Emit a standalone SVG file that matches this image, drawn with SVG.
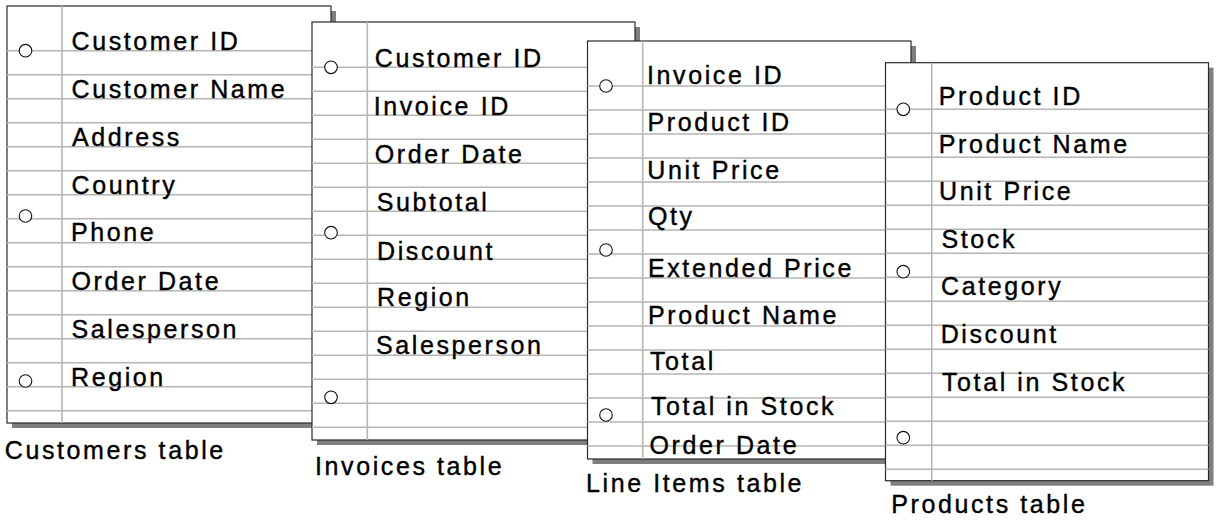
<svg xmlns="http://www.w3.org/2000/svg" width="1220" height="527" viewBox="0 0 1220 527">
<style>
  .shadow { fill: #7f7f7f; }
  .paper { fill: #ffffff; stroke: #2a2a2a; stroke-width: 1.2; }
  .rule { fill: none; stroke: #b5b5b5; stroke-width: 1.6; }
  .hole { fill: #ffffff; stroke: #111111; stroke-width: 1.1; }
  text { font-family: "Liberation Sans", Arial, Helvetica, sans-serif; font-size: 25px; letter-spacing: 2.6px; fill: #000000; stroke: #000000; stroke-width: 0.4px; }
</style>
<rect width="1220" height="527" fill="#ffffff"/>

<g id="customers-table">
  <g transform="translate(7,6)">
    <rect class="shadow" x="5" y="5" width="324" height="417"/>
    <rect class="paper" x="0" y="0" width="324" height="417"/>
    <path class="rule" d="M0 44.7h324m-324 24h324m-324 24h324m-324 24h324m-324 24h324m-324 24h324m-324 24h324m-324 24h324m-324 24h324m-324 24h324m-324 24h324m-324 24h324m-324 24h324m-324 24h324m-324 24h324m-324 24h324"/>
    <path class="rule" d="M55 0v417"/>
    <circle class="hole" cx="18.5" cy="44.7" r="6.3"/>
    <circle class="hole" cx="18.5" cy="210" r="6.3"/>
    <circle class="hole" cx="18.5" cy="375" r="6.3"/>
  </g>
  <text x="71.5" y="50">Customer ID</text>
  <text x="71.5" y="98">Customer Name</text>
  <text x="72" y="146">Address</text>
  <text x="71.5" y="194">Country</text>
  <text x="71" y="241">Phone</text>
  <text x="71.5" y="290">Order Date</text>
  <text x="71.5" y="338">Salesperson</text>
  <text x="71" y="386">Region</text>
  <text x="4.8" y="459">Customers table</text>
</g>

<g id="invoices-table">
  <g transform="translate(312,22)">
    <rect class="shadow" x="5" y="5" width="323" height="418"/>
    <rect class="paper" x="0" y="0" width="323" height="418"/>
    <path class="rule" d="M0 45.3h323m-323 24h323m-323 24h323m-323 24h323m-323 24h323m-323 24h323m-323 24h323m-323 24h323m-323 24h323m-323 24h323m-323 24h323m-323 24h323m-323 24h323m-323 24h323m-323 24h323m-323 24h323"/>
    <path class="rule" d="M55.3 0v418"/>
    <circle class="hole" cx="19" cy="45.3" r="6.3"/>
    <circle class="hole" cx="19" cy="210.7" r="6.3"/>
    <circle class="hole" cx="19" cy="375.3" r="6.3"/>
  </g>
  <text x="374.8" y="66.5">Customer ID</text>
  <text x="373.7" y="115">Invoice ID</text>
  <text x="374.8" y="162.5">Order Date</text>
  <text x="376.8" y="211">Subtotal</text>
  <text x="377" y="260">Discount</text>
  <text x="377" y="306">Region</text>
  <text x="376" y="353.5">Salesperson</text>
  <text x="315" y="475">Invoices table</text>
</g>

<g id="line-items-table">
  <g transform="translate(587.5,41)">
    <rect class="shadow" x="5" y="5" width="323.5" height="418"/>
    <rect class="paper" x="0" y="0" width="323.5" height="418"/>
    <path class="rule" d="M0 45h323.5m-323.5 24h323.5m-323.5 24h323.5m-323.5 24h323.5m-323.5 24h323.5m-323.5 24h323.5m-323.5 24h323.5m-323.5 24h323.5m-323.5 24h323.5m-323.5 24h323.5m-323.5 24h323.5m-323.5 24h323.5m-323.5 24h323.5m-323.5 24h323.5m-323.5 24h323.5m-323.5 24h323.5"/>
    <path class="rule" d="M55.2 0v418"/>
    <circle class="hole" cx="18.5" cy="45" r="6.3"/>
    <circle class="hole" cx="18.5" cy="209" r="6.3"/>
    <circle class="hole" cx="18.5" cy="374" r="6.3"/>
  </g>
  <text x="647" y="84">Invoice ID</text>
  <text x="647.5" y="130.5">Product ID</text>
  <text x="647.3" y="178.5">Unit Price</text>
  <text x="648" y="225">Qty</text>
  <text x="648" y="276.5">Extended Price</text>
  <text x="648" y="323.5">Product Name</text>
  <text x="650" y="369.5">Total</text>
  <text x="651" y="415">Total in Stock</text>
  <text x="649.5" y="454">Order Date</text>
  <text x="586" y="491.5">Line Items table</text>
</g>

<g id="products-table">
  <g transform="translate(885.5,62.7)">
    <rect class="shadow" x="5" y="5" width="323" height="418"/>
    <rect class="paper" x="0" y="0" width="323" height="418"/>
    <path class="rule" d="M0 46.6h323m-323 24h323m-323 24h323m-323 24h323m-323 24h323m-323 24h323m-323 24h323m-323 24h323m-323 24h323m-323 24h323m-323 24h323m-323 24h323m-323 24h323m-323 24h323m-323 24h323m-323 24h323"/>
    <path class="rule" d="M46.2 0v418"/>
    <circle class="hole" cx="17.8" cy="46.6" r="6.3"/>
    <circle class="hole" cx="17.8" cy="209" r="6.3"/>
    <circle class="hole" cx="17.8" cy="375" r="6.3"/>
  </g>
  <text x="938.7" y="105">Product ID</text>
  <text x="938.7" y="152.5">Product Name</text>
  <text x="939" y="200">Unit Price</text>
  <text x="941.5" y="247.5">Stock</text>
  <text x="941" y="295">Category</text>
  <text x="940.7" y="342.5">Discount</text>
  <text x="942" y="390.5">Total in Stock</text>
  <text x="891.3" y="513">Products table</text>
</g>
</svg>
